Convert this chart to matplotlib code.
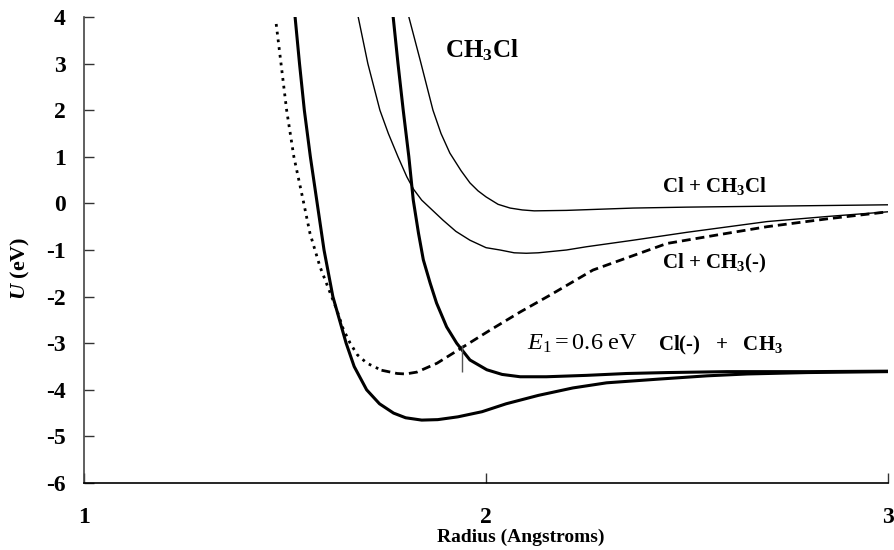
import matplotlib
matplotlib.use("Agg")
import matplotlib.pyplot as plt

plt.rcParams['font.family'] = ['Liberation Serif', 'DejaVu Serif']
plt.rcParams['axes.unicode_minus'] = False
plt.rcParams['mathtext.fontset'] = 'custom'
plt.rcParams['mathtext.rm'] = 'Liberation Serif'
plt.rcParams['mathtext.it'] = 'Liberation Serif:italic'
plt.rcParams['mathtext.bf'] = 'Liberation Serif:bold'
plt.rcParams['mathtext.bfit'] = 'Liberation Serif:italic:bold'

# Potential curves U(R), R in Angstroms, U in eV
# ground state well (thick solid)
r_ground = [1.525, 1.536, 1.548, 1.563, 1.580, 1.597, 1.619, 1.652, 1.672, 1.703,
            1.735, 1.770, 1.800, 1.840, 1.880, 1.930, 1.990, 2.050, 2.130, 2.216,
            2.300, 2.430, 2.550, 2.650, 2.800, 3.000]
u_ground = [4.0, 3.0, 2.0, 1.0, 0.0, -1.0, -2.0, -3.0, -3.5, -4.0,
            -4.3, -4.5, -4.6, -4.65, -4.64, -4.58, -4.47, -4.3, -4.12, -3.96,
            -3.85, -3.77, -3.7, -3.66, -3.63, -3.61]

# Cl(-) + CH3 branch (thick solid)
r_ion = [1.769, 1.781, 1.794, 1.808, 1.819, 1.832, 1.844, 1.861, 1.877, 1.902,
         1.927, 1.960, 2.002, 2.040, 2.085, 2.150, 2.250, 2.350, 2.450, 2.600,
         2.800, 3.000]
u_ion = [4.0, 3.0, 2.0, 1.0, 0.07, -0.64, -1.21, -1.71, -2.14, -2.65,
         -3.0, -3.36, -3.57, -3.67, -3.72, -3.72, -3.69, -3.65, -3.63, -3.61,
         -3.61, -3.6]

# Cl + CH3Cl (thin)
r_neutral = [1.808, 1.836, 1.868, 1.888, 1.910, 1.938, 1.960, 1.980, 2.000, 2.030,
             2.060, 2.090, 2.120, 2.200, 2.366, 2.500, 2.700, 3.000]
u_neutral = [4.0, 3.08, 2.0, 1.5, 1.08, 0.7, 0.44, 0.27, 0.14, -0.02,
             -0.1, -0.14, -0.16, -0.15, -0.1, -0.08, -0.06, -0.03]

# Cl + CH3(-) (thin)
r_anion = [1.682, 1.706, 1.736, 1.757, 1.781, 1.803, 1.820, 1.840, 1.893, 1.925,
           1.960, 2.000, 2.035, 2.070, 2.100, 2.130, 2.200, 2.250, 2.366, 2.500,
           2.699, 2.850, 3.000]
u_anion = [4.0, 3.0, 2.0, 1.5, 1.0, 0.57, 0.3, 0.07, -0.36, -0.6,
           -0.79, -0.95, -1.0, -1.06, -1.07, -1.06, -1.0, -0.93, -0.79, -0.62,
           -0.39, -0.28, -0.18]

# dotted inner wall + dashed outer part
r_inner = [1.478, 1.490, 1.504, 1.522, 1.545, 1.562, 1.587, 1.629, 1.645, 1.662,
           1.680, 1.704, 1.740]
u_inner = [3.85, 3.0, 2.0, 1.0, 0.07, -0.64, -1.36, -2.29, -2.7, -3.0,
           -3.25, -3.43, -3.58]
r_outer = [1.740, 1.779, 1.800, 1.828, 1.878, 1.943, 2.010, 2.085, 2.159, 2.266,
           2.366, 2.450, 2.580, 2.699, 2.850, 3.000]
u_outer = [-3.58, -3.65, -3.66, -3.62, -3.43, -3.08, -2.72, -2.33, -1.97, -1.43,
           -1.12, -0.86, -0.67, -0.5, -0.33, -0.18]

# E1 marker
r_mark = 1.94
u_mark = (-3.04, -3.62)

x_ticks = [1, 2, 3]
y_ticks = [-6, -5, -4, -3, -2, -1, 0, 1, 2, 3, 4]

fig = plt.figure(figsize=(8.95, 5.5), dpi=100)
ax = fig.add_axes([0.0939, 0.1218, 0.8983, 0.8473])

ax.plot(r_ground, u_ground, color='black', lw=2.2)
ax.plot(r_ion, u_ion, color='black', lw=2.2)
ax.plot(r_neutral, u_neutral, color='black', lw=1.0)
ax.plot(r_anion, u_anion, color='black', lw=1.0)
ax.plot(r_inner, u_inner, color='black', lw=2.0, linestyle=(0, (1.0, 1.8)))
ax.plot(r_outer, u_outer, color='black', lw=2.0, linestyle=(0, (3.2, 1.8)))
ax.vlines(r_mark, u_mark[0], u_mark[1], color='#555555', lw=1.0)

ax.text(1.898, 3.14, r'CH$_\mathbf{3}$Cl', fontsize=18, fontweight='bold',
        ha='left', va='baseline')
ax.text(2.438, 0.245, r'Cl + CH$_\mathbf{3}$Cl', fontsize=15, fontweight='bold',
        ha='left', va='baseline')
ax.text(2.438, -1.39, r'Cl + CH$_\mathbf{3}$(-)', fontsize=15, fontweight='bold',
        ha='left', va='baseline')
ax.text(2.102, -3.15, r'$E_1 = 0.6\ \mathrm{eV}$', fontsize=17.5, ha='left', va='baseline')
ax.text(2.428, -3.15, r'Cl(-)   +   CH$_\mathbf{3}$', fontsize=15, fontweight='bold',
        ha='left', va='baseline')

ax.set_xlim(1, 3)
ax.set_ylim(-6, 4)
ax.set_xticks(x_ticks)
ax.set_yticks(y_ticks)
ax.tick_params(axis='both', direction='in', length=7, width=1, colors='#333333',
               labelcolor='black', labelsize=17)
ax.tick_params(axis='y', pad=13)
ax.tick_params(axis='x', pad=17)
for lab in ax.get_xticklabels() + ax.get_yticklabels():
    lab.set_fontweight('bold')

for side in ('top', 'right'):
    ax.spines[side].set_visible(False)
ax.spines['left'].set_color('#444444')
ax.spines['bottom'].set_color('black')
ax.spines['left'].set_linewidth(1.2)
ax.spines['bottom'].set_linewidth(1.2)

ax.set_ylabel(r'$\mathbfit{U}$ (eV)', fontsize=16, fontweight='bold')
ax.yaxis.set_label_coords(-0.065, 0.461)
fig.text(521 / 895, 1 - 537 / 550, 'Radius (Angstroms)', fontsize=14, fontweight='bold',
         ha='center', va='center')

fig.savefig('out.png', dpi=100)
